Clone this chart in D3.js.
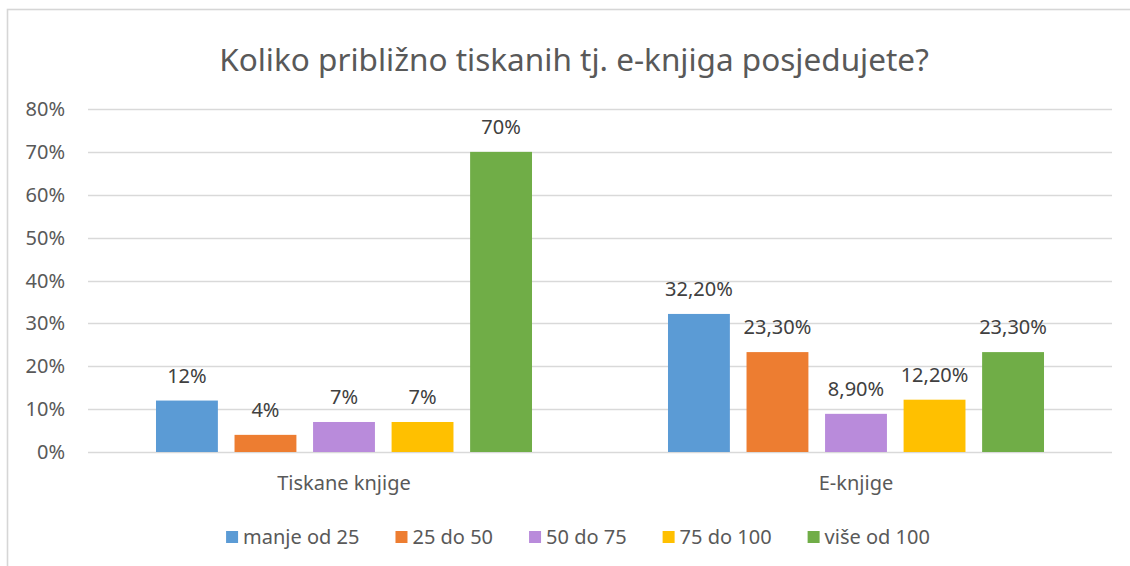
<!DOCTYPE html>
<meta charset="utf-8">
<title>Koliko približno tiskanih tj. e-knjiga posjedujete?</title>
<style>
  body { margin: 0; background: #fff; }
  svg { display: block; font-family: 'Noto Sans', 'Open Sans', sans-serif; }
  .grid line { stroke: #d9d9d9; stroke-width: 1.3px; }
  .tick-label { fill: #595959; font-size: 20px; }
  .cat-label { fill: #595959; font-size: 20px; }
  .val-label { fill: #404040; font-size: 20px; }
  .legend text { fill: #595959; font-size: 20px; }
</style>
<body>
<svg width="1130" height="566"></svg>
<script src="https://cdn.jsdelivr.net/npm/d3@7"></script>
<script>
// data
var categories = ["Tiskane knjige", "E-knjige"];
var seriesNames = ["manje od 25", "25 do 50", "50 do 75", "75 do 100", "više od 100"];
var seriesColors = ["#5b9bd5", "#ed7d31", "#b98bdb", "#ffc000", "#70ad47"];
var printedValues = [12, 4, 7, 7, 70];
var ebookValues = [32.2, 23.3, 8.9, 12.2, 23.3];
var printedLabels = ["12%", "4%", "7%", "7%", "70%"];
var ebookLabels = ["32,20%", "23,30%", "8,90%", "12,20%", "23,30%"];
var yTicks = [0, 10, 20, 30, 40, 50, 60, 70, 80];

var svg = d3.select("svg"),
    width = +svg.attr("width"),
    height = +svg.attr("height");

// chart frame (only top and left edges are visible in the crop)
svg.append("rect")
    .attr("x", 7.5).attr("y", 9.5)
    .attr("width", 1400).attr("height", 800)
    .attr("fill", "none")
    .attr("stroke", "#d6d6d6")
    .attr("stroke-width", 1.6);

svg.append("text")
    .attr("x", 574).attr("y", 71)
    .attr("text-anchor", "middle")
    .attr("fill", "#595959")
    .style("font-size", "31.5px")
    .text("Koliko približno tiskanih tj. e-knjiga posjedujete?");

var plotLeft = 88, plotRight = 1112, plotTop = 109, plotBottom = 452;

var y = d3.scaleLinear().domain([0, 80]).range([plotBottom, plotTop]);

var x0 = d3.scaleBand()
    .domain(categories)
    .range([plotLeft, plotRight])
    .paddingInner(0.2656)
    .paddingOuter(0.1328);

var x1 = d3.scaleBand()
    .domain(seriesNames)
    .range([0, x0.bandwidth()])
    .paddingInner(0.212);

svg.append("g")
    .attr("class", "grid")
    .selectAll("line")
    .data(yTicks)
    .enter().append("line")
    .attr("x1", plotLeft).attr("x2", plotRight)
    .attr("y1", function(d) { return Math.round(y(d)) + 0.5; })
    .attr("y2", function(d) { return Math.round(y(d)) + 0.5; });

svg.append("g")
    .selectAll("text")
    .data(yTicks)
    .enter().append("text")
    .attr("class", "tick-label")
    .attr("x", 65)
    .attr("y", function(d) { return y(d); })
    .attr("dy", "0.35em")
    .attr("text-anchor", "end")
    .text(function(d) { return d + "%"; });

var rows = [
  { cat: categories[0], values: printedValues, labels: printedLabels },
  { cat: categories[1], values: ebookValues, labels: ebookLabels }
];

var groups = svg.selectAll(".group")
    .data(rows)
    .enter().append("g")
    .attr("class", "group")
    .attr("transform", function(d) { return "translate(" + x0(d.cat) + ",0)"; });

var cells = function(d) {
  return seriesNames.map(function(s, i) {
    return { name: s, value: d.values[i], label: d.labels[i], color: seriesColors[i] };
  });
};

groups.selectAll("rect")
    .data(cells)
    .enter().append("rect")
    .attr("x", function(d) { return x1(d.name); })
    .attr("width", x1.bandwidth())
    .attr("y", function(d) { return y(d.value); })
    .attr("height", function(d) { return y(0) - y(d.value); })
    .attr("fill", function(d) { return d.color; });

groups.selectAll(".val-label")
    .data(cells)
    .enter().append("text")
    .attr("class", "val-label")
    .attr("x", function(d) { return x1(d.name) + x1.bandwidth() / 2; })
    .attr("y", function(d) { return y(d.value) - 18; })
    .attr("text-anchor", "middle")
    .text(function(d) { return d.label; });

svg.append("g")
    .selectAll("text")
    .data(categories)
    .enter().append("text")
    .attr("class", "cat-label")
    .attr("x", function(d) { return x0(d) + x0.bandwidth() / 2; })
    .attr("y", 490)
    .attr("text-anchor", "middle")
    .text(function(d) { return d; });

// legend, centred under the plot
var legend = svg.append("g").attr("class", "legend");
var items = legend.selectAll("g")
    .data(seriesNames)
    .enter().append("g");
items.append("rect")
    .attr("width", 12).attr("height", 12)
    .attr("y", -6)
    .attr("fill", function(d, i) { return seriesColors[i]; });
items.append("text")
    .attr("x", 17)
    .attr("dy", "0.35em")
    .text(function(d) { return d; });

var pos = 0, gap = 36;
items.each(function() {
  var w = 17 + this.querySelector("text").getComputedTextLength();
  d3.select(this).attr("transform", "translate(" + pos + ",0)");
  pos += w + gap;
});
pos -= gap;
legend.attr("transform", "translate(" + (578 - pos / 2) + ",537)");
</script>
</body>
